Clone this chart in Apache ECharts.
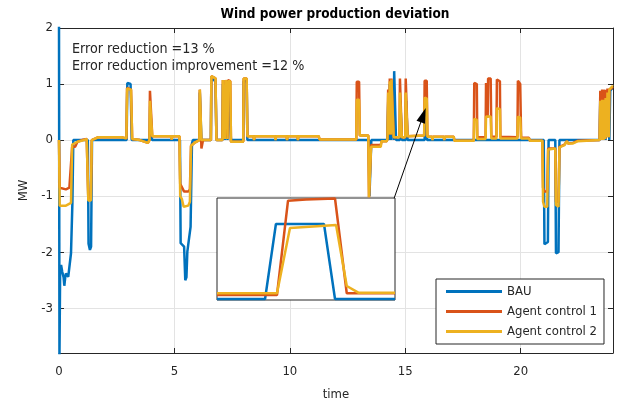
<!DOCTYPE html>
<html>
<head>
<meta charset="utf-8">
<script src="https://cdn.jsdelivr.net/npm/echarts@6/dist/echarts.min.js"></script>
<style>html,body{margin:0;padding:0;background:#fff;}#c{width:621px;height:402px;}</style>
</head>
<body>
<div id="c"></div>
<script>
// ---- data (time in hours, value in MW) ----
const seriesNames = ['BAU', 'Agent control 1', 'Agent control 2'];
const xTicks = [0, 5, 10, 15, 20];
const yTicks = [-3, -2, -1, 0, 1, 2];

const bauData = [
  [0, 2.05], [0.02, -3.85], [0.05, -2.3], [0.09, -2.23], [0.14, -2.35], [0.2, -2.45], [0.23, -2.6], [0.27, -2.45],
  [0.3, -2.38], [0.36, -2.4], [0.4, -2.44], [0.48, -2.46], [0.52, -2.02], [0.56, -2.0], [0.58, -1.13], [0.62, 0],
  [1.25, 0], [1.28, -1.85], [1.34, -1.96], [1.39, -1.9], [1.43, 0],
  [2.93, 0], [2.96, 1.02], [3.1, 1.0], [3.15, 0],
  [3.93, 0], [3.95, 0.6], [4.0, 0.6], [4.03, 0],
  [5.24, 0], [5.27, -1.84], [5.42, -1.9], [5.47, -2.5], [5.52, -2.45], [5.56, -1.99], [5.62, -1.8], [5.7, -1.55], [5.76, -0.06], [5.8, 0],
  [6.08, 0], [6.1, 0.85], [6.15, 0.85], [6.17, 0],
  [6.58, 0], [6.6, 1.1], [6.78, 1.05], [6.82, 0],
  [7.08, 0], [7.1, 1.0], [7.16, 1.0], [7.18, 0], [7.22, 1.0], [7.28, 1.0], [7.3, 0], [7.34, 1.0], [7.42, 1.0], [7.45, 0],
  [7.98, 0], [8.0, 1.05], [8.13, 1.05], [8.16, 0],
  [13.42, 0], [13.45, -1.0], [13.5, -1.0], [13.53, 0],
  [14.22, 0], [14.27, 0.8], [14.3, 0], [14.33, 1.0], [14.38, 0], [14.41, 1.0], [14.48, 1.0], [14.5, 0], [14.52, 1.23], [14.57, 1.21], [14.6, 0],
  [14.77, 0], [14.79, 0.7], [14.83, 0.7], [14.85, 0], [15.02, 0], [15.04, 0.7], [15.08, 0.7], [15.1, 0],
  [15.84, 0], [15.86, 0.5], [15.92, 0.5], [15.95, 0],
  [21.0, 0], [21.03, -1.86], [21.18, -1.82], [21.21, 0],
  [21.5, 0], [21.53, -2.02], [21.64, -2.0], [21.68, 0],
  [23.42, 0], [23.45, 0.8], [23.5, 0.8], [23.52, 0], [23.58, 0], [23.6, 0.82], [23.66, 0.82], [23.68, 0],
  [23.74, 0], [23.76, 0.86], [23.82, 0.86], [23.84, 0], [23.88, 0.88], [23.95, 0.92], [24, 0.92]
];

const agent1Data = [
  [0, 0], [0.03, -0.85], [0.1, -0.88], [0.3, -0.88], [0.45, -0.85], [0.53, -0.82], [0.57, -0.12], [0.7, -0.12], [0.8, -0.03],
  [1.0, 0.0], [1.2, 0.02], [1.24, 0.0], [1.27, -1.05], [1.38, -1.05], [1.42, 0.0], [1.7, 0.05], [2.7, 0.05], [2.92, 0.03],
  [2.95, 0.93], [3.12, 0.9], [3.17, 0.02], [3.5, 0.0], [3.85, -0.05], [3.92, 0.0], [3.94, 0.88], [4.0, 0.85], [4.04, 0.07],
  [4.85, 0.07], [4.88, 0.01], [4.91, 0.07], [5.22, 0.07],
  [5.25, -0.78], [5.3, -0.8], [5.42, -0.92], [5.6, -0.92], [5.67, -0.88], [5.72, -0.1], [5.9, -0.04],
  [6.08, 0], [6.1, 0.9], [6.15, 0.9], [6.17, -0.15], [6.22, -0.15], [6.24, 0],
  [6.58, 0.0], [6.6, 1.14], [6.78, 1.1], [6.82, 0.0], [7.08, 0], [7.1, 1.07], [7.16, 1.05], [7.18, 0.02], [7.22, 1.07],
  [7.28, 1.06], [7.3, 0.02], [7.32, 1.07], [7.42, 1.05], [7.45, -0.03], [7.98, -0.03], [8.0, 1.1], [8.13, 1.1], [8.16, 0.07],
  [8.43, 0.07], [8.45, 0.0], [8.47, 0.07], [9.36, 0.07], [9.38, 0.0], [9.4, 0.07], [9.86, 0.07], [9.88, 0.0], [9.9, 0.07],
  [10.33, 0.07], [10.35, 0.0], [10.37, 0.07], [11.25, 0.07], [11.29, 0.01], [12.88, 0.01], [12.9, 1.04], [13.0, 1.04],
  [13.03, 0.08], [13.4, 0.08], [13.43, -1.02], [13.48, -1.02], [13.52, -0.09], [13.94, -0.09], [13.97, -0.02], [14.2, -0.02],
  [14.23, 0.02], [14.26, 0.9], [14.3, 0.1], [14.33, 1.1], [14.38, 0.1], [14.4, 1.1], [14.47, 1.1], [14.5, 0.05], [14.75, 0.05],
  [14.77, 1.1], [14.83, 1.1], [14.85, 0.05], [15.0, 0.05], [15.02, 1.1], [15.08, 1.1], [15.1, 0.07], [15.82, 0.08],
  [15.84, 1.06], [15.93, 1.06], [15.96, 0.06], [16.16, 0.06], [16.18, 0.0], [16.2, 0.06], [16.67, 0.06], [16.69, 0.0],
  [16.71, 0.06], [17.1, 0.06], [17.13, -0.01], [17.97, -0.01], [17.99, 1.02], [18.1, 1.0], [18.12, 0.05], [18.48, 0.05],
  [18.5, 1.02], [18.55, 1.02], [18.57, 0.4], [18.59, 1.1], [18.7, 1.1], [18.73, 0.06], [18.95, 0.06], [18.97, 1.08],
  [19.1, 1.05], [19.12, 0.06], [19.86, 0.05], [19.88, 1.06], [19.98, 1.0], [20.02, 0.04], [20.36, 0.04], [20.4, -0.01],
  [20.94, -0.01], [20.97, -0.85], [21.03, -0.92], [21.15, -0.92], [21.19, -0.15], [21.5, -0.15], [21.53, -1.1], [21.64, -1.1],
  [21.68, -0.12], [21.9, -0.08], [22.0, -0.02], [22.05, -0.06], [22.27, -0.05], [22.48, -0.01], [23.42, 0],
  [23.45, 0.88], [23.5, 0.0], [23.53, 0.9], [23.58, 0.0], [23.6, 0.9], [23.66, 0.02], [23.68, 0.9], [23.74, 0.05],
  [23.76, 0.92], [23.82, 0.05], [23.84, 0.9], [23.9, 0.9], [23.97, 0.93], [24, 0.92]
];

const agent2Data = [
  [0, 0], [0.03, -1.17], [0.3, -1.17], [0.52, -1.12], [0.57, -0.08], [0.8, -0.03], [1.1, 0.0], [1.2, 0.02], [1.24, 0.0],
  [1.27, -1.08], [1.38, -1.08], [1.42, 0.0], [1.7, 0.05], [2.7, 0.05], [2.92, 0.03], [2.95, 0.92], [3.12, 0.9], [3.17, 0.02],
  [3.5, 0.0], [3.85, -0.05], [3.92, 0.0], [3.94, 0.7], [4.0, 0.7], [4.04, 0.07], [4.85, 0.07], [4.88, 0.01], [4.91, 0.07],
  [5.22, 0.07], [5.25, -1.0], [5.32, -1.05], [5.4, -1.19], [5.6, -1.17], [5.67, -1.1], [5.72, -0.1], [5.9, -0.04],
  [6.08, 0], [6.1, 0.9], [6.15, 0.9], [6.17, 0.0], [6.58, 0.0], [6.6, 1.14], [6.78, 1.1], [6.82, 0.0], [7.08, 0],
  [7.1, 1.07], [7.16, 1.05], [7.18, 0.02], [7.22, 1.07], [7.28, 1.0], [7.3, 0.02], [7.32, 1.05], [7.42, 1.05], [7.45, -0.03],
  [7.98, -0.03], [8.0, 1.1], [8.13, 1.1], [8.16, 0.07],
  [8.43, 0.07], [8.45, 0.0], [8.47, 0.07], [9.36, 0.07], [9.38, 0.0], [9.4, 0.07], [9.86, 0.07], [9.88, 0.0], [9.9, 0.07],
  [10.33, 0.07], [10.35, 0.0], [10.37, 0.07], [11.25, 0.07], [11.29, 0.01], [12.88, 0.01], [12.9, 0.72], [13.0, 0.72],
  [13.03, 0.08], [13.4, 0.08], [13.43, -1.02], [13.48, -1.02], [13.52, -0.12], [13.94, -0.12], [13.97, -0.02], [14.2, -0.02],
  [14.23, 0.02], [14.26, 0.85], [14.3, 0.1], [14.33, 1.05], [14.38, 0.1], [14.4, 1.08], [14.47, 1.1], [14.5, 0.05],
  [14.75, 0.05], [14.77, 0.85], [14.83, 0.85], [14.85, 0.05], [15.0, 0.05], [15.02, 0.85], [15.08, 0.85], [15.1, 0.07],
  [15.82, 0.08], [15.84, 0.76], [15.93, 0.74], [15.96, 0.06], [16.16, 0.06], [16.18, 0.0], [16.2, 0.06], [16.67, 0.06],
  [16.69, 0.0], [16.71, 0.06], [17.1, 0.06], [17.13, -0.01], [17.97, -0.01], [17.99, 0.38], [18.1, 0.36], [18.12, 0.02],
  [18.48, 0.02], [18.5, 0.42], [18.7, 0.42], [18.73, 0.03], [18.95, 0.03], [18.97, 0.57], [19.1, 0.55], [19.12, 0.03],
  [19.86, 0.03], [19.88, 0.42], [19.98, 0.4], [20.02, 0.03], [20.36, 0.03], [20.4, -0.01], [20.94, -0.01],
  [20.97, -1.1], [21.03, -1.19], [21.15, -1.19], [21.19, -0.17], [21.5, -0.15], [21.53, -1.16], [21.64, -1.19],
  [21.68, -0.13], [21.9, -0.09], [22.0, -0.02], [22.05, -0.06], [22.27, -0.06], [22.48, -0.02], [23.42, 0],
  [23.45, 0.7], [23.5, 0.0], [23.53, 0.72], [23.58, 0.0], [23.6, 0.72], [23.66, 0.02], [23.68, 0.75], [23.74, 0.05],
  [23.76, 0.85], [23.82, 0.05], [23.84, 0.9], [23.9, 0.92], [23.97, 0.96], [24, 0.95]
];

// inset (zoomed view, normalised 0..100 in both directions)
const insetBau = [[0, 1], [27, 1], [33.1, 74.5], [60.1, 74.5], [66.3, 1], [100, 1]];
const insetAgent1 = [[0, 4.9], [33.7, 4.9], [39.9, 97.4], [50, 98.5], [66.3, 99.5], [72.9, 6.6], [100, 6.6]];
const insetAgent2 = [[0, 6.6], [33.7, 6.6], [41, 70.6], [66.9, 73.5], [72.9, 13.7], [79.4, 7.2], [100, 7.2]];

// arrow annotation from inset corner to the zoomed spike (data coords)
const arrowFrom = [14.52, -1.036];
const arrowTo = [15.78, 0.446];

const annotationLines = ['Error reduction =13 %', 'Error reduction improvement =12 %'];

// ---- chart ----
const colors = ['#0072BD', '#D95319', '#EDB120'];
const FONT = '"DejaVu Sans Condensed", "DejaVu Sans"';
const TXT = '#262626';
const chart = echarts.init(document.getElementById('c'), null, {renderer: 'canvas'});

const mainAxisCommon = {
  axisLine: {show: true, onZero: false, lineStyle: {color: TXT, width: 1}},
  axisTick: {show: true, inside: true, length: 5, lineStyle: {color: TXT}},
  splitLine: {show: false}
};

chart.setOption({
  animation: false,
  backgroundColor: '#fff',
  color: colors,
  textStyle: {fontFamily: FONT},
  grid: [
    {left: 59, right: 8, top: 28, bottom: 49, containLabel: false, outerBoundsMode: 'none'},
    {left: 217, top: 198, width: 178, height: 102, show: true, backgroundColor: '#fff', borderColor: TXT, borderWidth: 1, z: 1, outerBoundsMode: 'none'}
  ],
  xAxis: [
    Object.assign({}, mainAxisCommon, {
      type: 'value', gridIndex: 0, min: 0, max: 24, interval: 5, position: 'bottom',
      axisLabel: {show: true, color: TXT, fontSize: 13, fontFamily: FONT, margin: 12, showMaxLabel: false,
        formatter: v => xTicks.indexOf(v) >= 0 ? String(v) : ''},
      splitLine: {show: true, lineStyle: {color: '#e3e3e3', width: 1}},
      name: 'time', nameLocation: 'middle', nameGap: 35,
      nameTextStyle: {color: TXT, fontSize: 13, fontFamily: FONT}
    }),
    Object.assign({}, mainAxisCommon, {
      type: 'value', gridIndex: 0, min: 0, max: 24, interval: 5, position: 'top',
      axisLabel: {show: false}
    }),
    {type: 'value', gridIndex: 1, min: 0, max: 100, show: false}
  ],
  yAxis: [
    Object.assign({}, mainAxisCommon, {
      type: 'value', gridIndex: 0, min: -3.8, max: 2, splitNumber: 5, position: 'left',
      axisLabel: {show: true, color: TXT, fontSize: 13, fontFamily: FONT, margin: 6, showMinLabel: false,
        formatter: v => yTicks.indexOf(v) >= 0 ? String(v) : ''},
      splitLine: {show: true, lineStyle: {color: '#e3e3e3', width: 1}},
      name: 'MW', nameLocation: 'middle', nameGap: 21, nameRotate: 90,
      nameTextStyle: {color: TXT, fontSize: 13, fontFamily: FONT}
    }),
    Object.assign({}, mainAxisCommon, {
      type: 'value', gridIndex: 0, min: -3.8, max: 2, splitNumber: 5, position: 'right',
      axisLabel: {show: false}
    }),
    {type: 'value', gridIndex: 1, min: 0, max: 100, show: false}
  ],
  legend: {
    data: seriesNames, orient: 'vertical', left: 436, top: 279,
    padding: [5, 7, 5, 10], itemGap: 5, itemWidth: 56, itemHeight: 3, icon: 'rect',
    backgroundColor: '#fff', borderColor: TXT, borderWidth: 1, borderRadius: 0,
    textStyle: {color: TXT, fontSize: 13, fontFamily: FONT, lineHeight: 15}, z: 5
  },
  graphic: [
    {type: 'text', x: 335, y: 14, z: 10, style: {text: 'Wind power production deviation', font: 'bold 13.5px "DejaVu Sans Condensed", "DejaVu Sans"', fill: '#000', align: 'center', verticalAlign: 'middle'}},
    {type: 'text', x: 72, y: 49, z: 10, style: {text: annotationLines[0], font: '14.2px "DejaVu Sans Condensed", "DejaVu Sans"', fill: TXT, align: 'left', verticalAlign: 'middle'}},
    {type: 'text', x: 72, y: 66, z: 10, style: {text: annotationLines[1], font: '14.2px "DejaVu Sans Condensed", "DejaVu Sans"', fill: TXT, align: 'left', verticalAlign: 'middle'}}
  ],
  series: [
    {name: seriesNames[0], type: 'line', xAxisIndex: 0, yAxisIndex: 0, data: bauData, showSymbol: false, symbol: 'none', lineStyle: {width: 2.5, color: colors[0]}, z: 2},
    {name: seriesNames[1], type: 'line', xAxisIndex: 0, yAxisIndex: 0, data: agent1Data, showSymbol: false, symbol: 'none', lineStyle: {width: 2.5, color: colors[1]}, z: 3},
    {name: seriesNames[2], type: 'line', xAxisIndex: 0, yAxisIndex: 0, data: agent2Data, showSymbol: false, symbol: 'none', lineStyle: {width: 2.5, color: colors[2]}, z: 4},
    {name: 'inset-bau', type: 'line', xAxisIndex: 2, yAxisIndex: 2, data: insetBau, symbol: 'none', lineStyle: {width: 2.5, color: colors[0]}, z: 6, clip: false},
    {name: 'inset-a1', type: 'line', xAxisIndex: 2, yAxisIndex: 2, data: insetAgent1, symbol: 'none', lineStyle: {width: 2.5, color: colors[1]}, z: 7, clip: false},
    {name: 'inset-a2', type: 'line', xAxisIndex: 2, yAxisIndex: 2, data: insetAgent2, symbol: 'none', lineStyle: {width: 2.5, color: colors[2]}, z: 8, clip: false},
    {name: 'arrow', type: 'line', xAxisIndex: 0, yAxisIndex: 0, data: [], symbol: 'none', z: 9,
      markLine: {silent: true, symbol: ['none', 'triangle'], symbolSize: [9, 15], label: {show: false},
        lineStyle: {color: '#000', width: 1, type: 'solid'}, animation: false,
        data: [[{coord: arrowFrom}, {coord: arrowTo}]]}}
  ]
});
</script>
</body>
</html>
